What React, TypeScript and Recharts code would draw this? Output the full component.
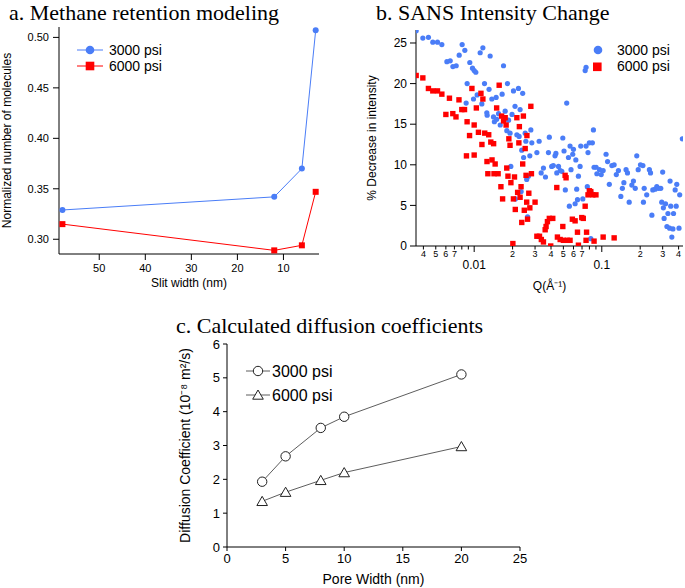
import React from 'react';
import { LineChart, Line, ScatterChart, Scatter, XAxis, YAxis, Label } from 'recharts';

const SANS = '"Liberation Sans", Arial, Helvetica, sans-serif';
const SERIF = '"Liberation Serif", "Times New Roman", serif';
const BLUE = '#4a7df7';
const RED = '#ff0000';
const INK = '#000000';

// ---------- Panel a: Methane retention modeling ----------
const slitWidth = [58, 12, 6, 3];
const retention3000 = [0.329, 0.342, 0.37, 0.507];
const retention6000 = [0.315, 0.289, 0.294, 0.347];
const slitTicks = [10, 20, 30, 40, 50];
const retentionTicks = [0.3, 0.35, 0.4, 0.45, 0.5];

// ---------- Panel b: SANS intensity change ([Q, % decrease]) ----------
const sans3000: number[][] = [
  [0.00351, 26.5], [0.00396, 25.6], [0.00438, 25.7], [0.00474, 25.1], [0.00516, 25.1], [0.00558, 24.8],
  [0.00611, 22.7], [0.00649, 22.8], [0.00681, 22.1], [0.00723, 22.2], [0.00763, 23.5], [0.00805, 24.8],
  [0.00845, 24.1], [0.00881, 20.0], [0.00924, 22.6], [0.0097, 21.9], [0.01, 21.6], [0.0103, 21.4],
  [0.00865, 17.6], [0.00988, 18.1], [0.01055, 18.6], [0.01114, 23.8], [0.0117, 24.4], [0.01205, 20.0],
  [0.01148, 17.5], [0.01256, 16.4], [0.01264, 16.1], [0.01308, 19.3], [0.01334, 23.4], [0.01375, 18.1],
  [0.01417, 15.9], [0.0144, 15.3], [0.01486, 18.3], [0.015, 15.6], [0.01553, 16.3], [0.016, 14.9],
  [0.01656, 18.7], [0.01698, 22.2], [0.01749, 16.6], [0.01803, 14.2], [0.01824, 20.0], [0.0186, 15.5],
  [0.0191, 13.9], [0.01937, 9.8], [0.0198, 16.2], [0.02032, 19.1], [0.0209, 17.2], [0.0216, 13.7],
  [0.02222, 19.4], [0.0225, 13.5], [0.0229, 16.8], [0.02333, 6.7], [0.0236, 11.8], [0.024, 18.8],
  [0.0244, 10.9], [0.0251, 13.9], [0.0254, 12.9], [0.0258, 8.2], [0.0262, 3.6], [0.0266, 8.6],
  [0.0273, 11.1], [0.0278, 14.3], [0.0283, 12.7], [0.031, 11.5], [0.0323, 12.9], [0.0335, 9.0],
  [0.0349, 9.6], [0.0362, 8.5], [0.0382, 11.5], [0.0388, 13.4], [0.0405, 9.8], [0.0417, 9.9],
  [0.043, 11.1], [0.0437, 11.4], [0.0444, 9.0], [0.0458, 9.8], [0.0472, 9.3], [0.0486, 9.2],
  [0.0495, 13.3], [0.0506, 11.7], [0.0518, 6.9], [0.0531, 17.6], [0.0548, 10.9], [0.0557, 4.9],
  [0.0564, 12.3], [0.0574, 9.4], [0.0592, 11.3], [0.06, 11.9], [0.0618, 5.2], [0.0626, 10.6],
  [0.0636, 7.0], [0.0645, 5.7], [0.0656, 8.6], [0.0676, 9.8], [0.0684, 12.3], [0.071, 5.8],
  [0.0741, 21.6], [0.0753, 22.0], [0.0753, 12.3], [0.077, 7.3], [0.078, 11.5], [0.0799, 12.7],
  [0.082, 6.7], [0.0844, 12.7], [0.086, 14.3], [0.087, 9.7], [0.0903, 9.7], [0.0915, 8.9],
  [0.096, 9.4], [0.099, 8.8], [0.1025, 9.3], [0.108, 11.3], [0.111, 10.4], [0.1146, 7.6],
  [0.12, 9.9], [0.125, 10.0], [0.13, 8.8], [0.135, 9.3], [0.141, 6.1], [0.145, 7.1],
  [0.149, 7.8], [0.155, 9.4], [0.159, 9.0], [0.164, 5.4], [0.172, 7.5], [0.177, 8.0],
  [0.183, 7.1], [0.188, 11.1], [0.193, 9.4], [0.201, 10.0], [0.21, 9.9], [0.212, 5.4],
  [0.215, 7.1], [0.225, 6.3], [0.236, 9.4], [0.241, 9.0], [0.247, 3.8], [0.251, 6.9],
  [0.262, 7.0], [0.27, 7.3], [0.278, 7.1], [0.29, 7.1], [0.295, 5.4], [0.3, 9.1],
  [0.304, 4.7], [0.308, 3.4], [0.316, 5.2], [0.324, 2.4], [0.33, 4.0], [0.34, 2.2],
  [0.343, 8.0], [0.347, 4.9], [0.354, 1.1], [0.361, 2.1], [0.365, 4.0], [0.376, 6.9],
  [0.383, 4.9], [0.387, 7.6], [0.403, 2.2], [0.408, 6.3], [0.428, 13.2], [0.082, 0.9],
  [0.021, 5.8],
];
const sans6000: number[][] = [
  [0.00351, 21.0], [0.00396, 20.7], [0.00438, 19.4], [0.00474, 19.1], [0.00516, 19.1], [0.00558, 18.7],
  [0.006, 16.2], [0.0064, 18.2], [0.0068, 16.3], [0.0072, 15.9], [0.0076, 18.0], [0.008, 16.8],
  [0.0084, 16.8], [0.0087, 11.1], [0.0088, 15.3], [0.0092, 13.6], [0.0096, 19.4], [0.01, 14.9],
  [0.01, 11.2], [0.0104, 17.0], [0.0108, 14.0], [0.0113, 18.8], [0.0115, 12.5], [0.0117, 18.1],
  [0.0121, 13.9], [0.0126, 10.4], [0.0128, 8.9], [0.013, 13.7], [0.0135, 12.8], [0.0138, 10.6],
  [0.0142, 12.6], [0.0143, 8.9], [0.0146, 10.1], [0.015, 17.0], [0.0154, 8.9], [0.0157, 19.8],
  [0.0162, 7.3], [0.0164, 16.0], [0.0167, 5.8], [0.017, 15.4], [0.0175, 15.8], [0.0178, 14.9],
  [0.018, 9.6], [0.0184, 8.6], [0.0187, 13.2], [0.0191, 12.4], [0.0194, 7.8], [0.0201, 0.3],
  [0.0203, 5.8], [0.0207, 8.5], [0.021, 4.5], [0.0216, 15.8], [0.0219, 6.6], [0.0224, 12.7],
  [0.0226, 14.7], [0.0229, 6.0], [0.0233, 7.3], [0.0236, 2.9], [0.024, 10.1], [0.0243, 16.0],
  [0.0247, 4.4], [0.0251, 12.0], [0.0255, 8.7], [0.0258, 5.4], [0.0259, 13.6], [0.0262, 3.3],
  [0.0268, 6.5], [0.0273, 4.7], [0.0278, 17.2], [0.0281, 8.9], [0.03, 5.4], [0.031, 1.2],
  [0.0325, 1.2], [0.0336, 0.8], [0.0349, 0.5], [0.036, 2.0], [0.0366, 2.4], [0.0375, 3.0],
  [0.0388, 3.4], [0.0398, 0.0], [0.0413, 3.4], [0.0444, 7.2], [0.0449, 1.1], [0.0472, 0.8],
  [0.0495, 2.4], [0.05, 0.7], [0.0516, 8.7], [0.0525, 8.4], [0.0537, 0.7], [0.0564, 0.7],
  [0.0588, 3.3], [0.0618, 3.1], [0.0645, 1.7], [0.0656, 0.1], [0.0697, 3.5], [0.0716, 3.4],
  [0.0741, 4.9], [0.0753, 0.7], [0.076, 1.7], [0.078, 6.3], [0.0799, 6.8], [0.082, 6.7],
  [0.085, 6.3], [0.087, 0.6], [0.09, 6.3], [0.1025, 1.1], [0.125, 1.0],
];
const qTicks = [
  0.004, 0.005, 0.006, 0.007, 0.008, 0.009, 0.01,
  0.02, 0.03, 0.04, 0.05, 0.06, 0.07, 0.08, 0.09, 0.1,
  0.2, 0.3, 0.4,
];
const pctTicks = [0, 5, 10, 15, 20, 25];

// ---------- Panel c: Calculated diffusion coefficients ----------
const poreWidth = [3, 5, 8, 10, 20];
const diffusion3000 = [1.93, 2.68, 3.52, 3.85, 5.1];
const diffusion6000 = [1.35, 1.62, 1.97, 2.2, 2.97];
const poreTicks = [0, 5, 10, 15, 20, 25];
const diffTicks = [0, 1, 2, 3, 4, 5, 6];

const dataA3000 = slitWidth.map((x, i) => ({ x, y: retention3000[i] }));
const dataA6000 = slitWidth.map((x, i) => ({ x, y: retention6000[i] }));
const dataB3000 = sans3000.map(([q, v]) => ({ q, v }));
const dataB6000 = sans6000.map(([q, v]) => ({ q, v }));
const dataC3000 = poreWidth.map((x, i) => ({ x, y: diffusion3000[i] }));
const dataC6000 = poreWidth.map((x, i) => ({ x, y: diffusion6000[i] }));

const axisText = { fill: INK, fontFamily: SANS };

const RedSquareDot = (p: any) => {
  if (p.cx == null || p.cy == null) return <g key={p.key} />;
  return <rect key={p.key} x={p.cx - 3} y={p.cy - 3} width={6} height={6} fill={RED} />;
};

const BlueScatterDot = (p: any) => <circle cx={p.cx} cy={p.cy} r={2.6} fill={BLUE} />;
const RedScatterSquare = (p: any) => (
  <rect x={p.cx - 2.7} y={p.cy - 2.7} width={5.4} height={5.4} fill={RED} />
);

const OpenCircleDot = (p: any) => {
  if (p.cx == null || p.cy == null) return <g key={p.key} />;
  return <circle key={p.key} cx={p.cx} cy={p.cy} r={4.7} fill="#fff" stroke="#222" strokeWidth={1} />;
};
const OpenTriangleDot = (p: any) => {
  if (p.cx == null || p.cy == null) return <g key={p.key} />;
  const { cx, cy } = p;
  return (
    <polygon
      key={p.key}
      points={`${cx},${cy - 5} ${cx - 5.3},${cy + 4.2} ${cx + 5.3},${cy + 4.2}`}
      fill="#fff"
      stroke="#222"
      strokeWidth={1}
    />
  );
};

const LogTick = (props: any) => {
  const { x, y, payload } = props;
  const v = payload.value as number;
  const exp = Math.floor(Math.log10(v) + 1e-9);
  const mant = Math.round(v / Math.pow(10, exp));
  const major = mant === 1;
  const label = major ? String(v) : mant <= 7 ? String(mant) : '';
  return (
    <g>
      <line x1={x} x2={x} y1={y} y2={y + (major ? 6 : 3.5)} stroke={INK} strokeWidth={1} />
      {label ? (
        <text
          x={x}
          y={major ? y + 22.5 : y + 11}
          textAnchor="middle"
          fontSize={major ? 12 : 9}
          fill={INK}
          fontFamily={SANS}
        >
          {label}
        </text>
      ) : null}
    </g>
  );
};

export default function App() {
  return (
    <div
      style={{
        position: 'absolute',
        left: 0,
        top: 0,
        width: 685,
        height: 588,
        background: '#fff',
        fontFamily: SANS,
        overflow: 'hidden',
      }}
    >
      {/* Panel a */}
      <div style={{ position: 'absolute', left: 0, top: 0 }}>
        <LineChart width={340} height={290} margin={{ top: 27, right: 21, bottom: 0, left: 0 }}>
          <XAxis
            type="number"
            dataKey="x"
            domain={[2.28, 58.74]}
            allowDataOverflow
            reversed
            ticks={slitTicks}
            interval={0}
            height={36}
            tickSize={6}
            tickMargin={4}
            stroke={INK}
            tick={{ ...axisText, fontSize: 11 }}
          >
            <Label value="Slit width (nm)" position="insideBottom" offset={3} style={{ ...axisText, fontSize: 12 }} />
          </XAxis>
          <YAxis
            type="number"
            dataKey="y"
            domain={[0.2854, 0.5103]}
            allowDataOverflow
            ticks={retentionTicks}
            interval={0}
            tickFormatter={(v: number) => v.toFixed(2)}
            width={59}
            tickSize={6}
            tickMargin={4}
            stroke={INK}
            tick={{ ...axisText, fontSize: 11 }}
          >
            <Label
              value="Normalized number of molecules"
              angle={-90}
              position="insideLeft"
              offset={7}
              style={{ ...axisText, fontSize: 12, textAnchor: 'middle' }}
            />
          </YAxis>
          <XAxis xAxisId="top" orientation="top" type="number" domain={[0, 1]} height={0} tick={false} tickLine={false} stroke={INK} />
          <YAxis yAxisId="right" orientation="right" type="number" domain={[0, 1]} width={0} tick={false} tickLine={false} stroke={INK} />
          <Line
            data={dataA3000}
            dataKey="y"
            stroke={BLUE}
            strokeWidth={1}
            dot={{ r: 3, fill: BLUE, stroke: BLUE, strokeWidth: 0 }}
            isAnimationActive={false}
          />
          <Line
            data={dataA6000}
            dataKey="y"
            stroke={RED}
            strokeWidth={1}
            dot={RedSquareDot}
            isAnimationActive={false}
          />
        </LineChart>
      </div>

      {/* Panel b */}
      <div style={{ position: 'absolute', left: 340, top: 0 }}>
        <ScatterChart width={345} height={300} margin={{ top: 30, right: 2, bottom: 0, left: 0 }}>
          <XAxis
            type="number"
            dataKey="q"
            scale="log"
            domain={[0.0035, 0.433]}
            allowDataOverflow
            ticks={qTicks}
            interval={0}
            height={54}
            tickSize={0}
            tickMargin={0}
            tickLine={false}
            stroke={INK}
            tick={<LogTick />}
          >
            <Label value="Q(Å⁻¹)" position="insideBottom" offset={10} style={{ ...axisText, fontSize: 12 }} />
          </XAxis>
          <YAxis
            type="number"
            dataKey="v"
            domain={[0, 26.6]}
            allowDataOverflow
            ticks={pctTicks}
            interval={0}
            width={76}
            tickSize={6}
            tickMargin={3}
            stroke={INK}
            tick={{ ...axisText, fontSize: 12 }}
          >
            <Label
              value="% Decrease in intensity"
              angle={-90}
              position="insideLeft"
              offset={32}
              style={{ ...axisText, fontSize: 12, textAnchor: 'middle' }}
            />
          </YAxis>
          <XAxis xAxisId="top" orientation="top" type="number" domain={[0, 1]} height={0} tick={false} tickLine={false} stroke={INK} />
          <YAxis yAxisId="right" orientation="right" type="number" domain={[0, 1]} width={0} tick={false} tickLine={false} stroke={INK} />
          <Scatter data={dataB3000} shape={BlueScatterDot} isAnimationActive={false} />
          <Scatter data={dataB6000} shape={RedScatterSquare} isAnimationActive={false} />
        </ScatterChart>
      </div>

      {/* Panel c */}
      <div style={{ position: 'absolute', left: 160, top: 300 }}>
        <LineChart width={380} height={288} margin={{ top: 44, right: 20, bottom: 0, left: 0 }}>
          <XAxis
            type="number"
            dataKey="x"
            domain={[0, 25]}
            ticks={poreTicks}
            interval={0}
            height={41}
            tickSize={4}
            tickMargin={3}
            stroke={INK}
            tick={{ ...axisText, fontSize: 13 }}
          >
            <Label value="Pore Width (nm)" position="insideBottom" offset={4} style={{ ...axisText, fontSize: 14 }} />
          </XAxis>
          <YAxis
            type="number"
            dataKey="y"
            domain={[0, 6]}
            ticks={diffTicks}
            interval={0}
            width={67}
            tickSize={4}
            tickMargin={3}
            stroke={INK}
            tick={{ ...axisText, fontSize: 13 }}
          >
            <Label
              value="Diffusion Coefficient (10⁻⁸ m²/s)"
              angle={-90}
              position="insideLeft"
              offset={25}
              style={{ ...axisText, fontSize: 14, textAnchor: 'middle' }}
            />
          </YAxis>
          <XAxis xAxisId="top" orientation="top" type="number" domain={[0, 1]} height={0} tick={false} tickLine={false} stroke={INK} />
          <YAxis yAxisId="right" orientation="right" type="number" domain={[0, 1]} width={0} tick={false} tickLine={false} stroke={INK} />
          <Line data={dataC3000} dataKey="y" stroke="#333" strokeWidth={0.8} dot={OpenCircleDot} isAnimationActive={false} />
          <Line data={dataC6000} dataKey="y" stroke="#333" strokeWidth={0.8} dot={OpenTriangleDot} isAnimationActive={false} />
        </LineChart>
      </div>

      {/* Titles and legends */}
      <svg
        width={685}
        height={588}
        style={{ position: 'absolute', left: 0, top: 0, pointerEvents: 'none' }}
      >
        <g fontFamily={SERIF} fontSize={22} fill={INK}>
          <text x={9} y={19.5}>a. Methane retention modeling</text>
          <text x={376} y={19.5}>b. SANS Intensity Change</text>
          <text x={176} y={333}>c. Calculated diffusion coefficients</text>
        </g>

        {/* legend a */}
        <g fontFamily={SANS} fontSize={14} fill={INK}>
          <line x1={77} x2={103} y1={50} y2={50} stroke={BLUE} strokeWidth={1} />
          <circle cx={90} cy={50} r={4.3} fill={BLUE} />
          <text x={109} y={55}>3000 psi</text>
          <line x1={77} x2={103} y1={66} y2={66} stroke={RED} strokeWidth={1} />
          <rect x={85.7} y={61.7} width={8.6} height={8.6} fill={RED} />
          <text x={109} y={71}>6000 psi</text>
        </g>

        {/* legend b */}
        <g fontFamily={SANS} fontSize={14} fill={INK}>
          <circle cx={598} cy={50} r={4.3} fill={BLUE} />
          <text x={617} y={55}>3000 psi</text>
          <rect x={593} y={62.5} width={8.6} height={8.6} fill={RED} />
          <text x={617} y={71}>6000 psi</text>
        </g>

        {/* legend c */}
        <g fontFamily={SANS} fontSize={16} fill={INK}>
          <line x1={246} x2={270} y1={371} y2={371} stroke="#333" strokeWidth={0.8} />
          <circle cx={258} cy={371} r={4.7} fill="#fff" stroke="#222" strokeWidth={1} />
          <text x={272} y={377}>3000 psi</text>
          <line x1={246} x2={270} y1={395} y2={395} stroke="#333" strokeWidth={0.8} />
          <polygon points="258,390 252.7,399.2 263.3,399.2" fill="#fff" stroke="#222" strokeWidth={1} />
          <text x={272} y={401}>6000 psi</text>
        </g>
      </svg>
    </div>
  );
}
